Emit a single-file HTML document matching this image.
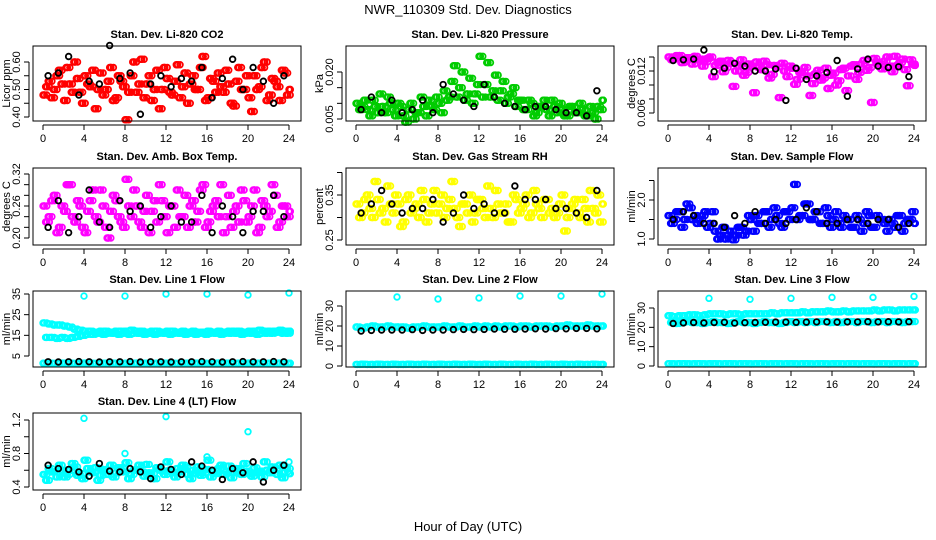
<!DOCTYPE html>
<html><head><meta charset="utf-8"><style>
body{margin:0;background:#fff}
svg{display:block;font-family:"Liberation Sans",Arial,sans-serif}
</style></head><body>
<svg id="c" width="936" height="540" viewBox="0 0 936 540">
<text x="468" y="14" text-anchor="middle" font-size="13">NWR_110309  Std. Dev. Diagnostics</text>
<text x="468" y="531" text-anchor="middle" font-size="13">Hour of Day (UTC)</text>
</svg>
<script>
const hours=[0,0.5,1,1.5,2,2.5,3,3.5,4,4.5,5,5.5,6,6.5,7,7.5,8,8.5,9,9.5,10,10.5,11,11.5,12,12.5,13,13.5,14,14.5,15,15.5,16,16.5,17,17.5,18,18.5,19,19.5,20,20.5,21,21.5,22,22.5,23,23.5,24];
const blackHours=[0.5,1.5,2.5,3.5,4.5,5.5,6.5,7.5,8.5,9.5,10.5,11.5,12.5,13.5,14.5,15.5,16.5,17.5,18.5,19.5,20.5,21.5,22.5,23.5];
const outlierHours=[4,8,12,16,20,24];
const xTicks=[0,4,8,12,16,20,24];

const co2A=[0.48,0.53,0.50,0.57,0.46,0.52,0.60,0.49,0.55,0.51,0.43,0.56,0.50,0.58,0.47,0.53,0.39,0.55,0.49,0.61,0.52,0.46,0.57,0.50,0.54,0.48,0.59,0.51,0.45,0.55,0.50,0.62,0.47,0.53,0.56,0.49,0.52,0.44,0.58,0.50,0.47,0.55,0.51,0.60,0.48,0.53,0.46,0.56,0.50];
const co2B=[0.51,0.47,0.55,0.52,0.58,0.49,0.54,0.45,0.52,0.57,0.50,0.48,0.53,0.46,0.55,0.51,0.49,0.60,0.52,0.47,0.55,0.50,0.43,0.58,0.49,0.53,0.47,0.56,0.52,0.50,0.58,0.46,0.54,0.49,0.51,0.57,0.45,0.53,0.50,0.55,0.42,0.50,0.58,0.46,0.54,0.51,0.57,0.48,0.52];
const co2K=[0.55,0.56,0.62,0.48,0.53,0.52,0.66,0.54,0.56,0.41,0.52,0.55,0.51,0.54,0.53,0.58,0.47,0.54,0.61,0.50,0.58,0.53,0.45,0.55];

const presA=[0.010,0.009,0.008,0.011,0.007,0.009,0.012,0.008,0.010,0.006,0.008,0.005,0.007,0.009,0.011,0.008,0.010,0.014,0.012,0.022,0.015,0.011,0.018,0.013,0.025,0.016,0.012,0.019,0.014,0.010,0.013,0.009,0.011,0.008,0.010,0.007,0.009,0.008,0.011,0.007,0.008,0.006,0.009,0.007,0.008,0.006,0.007,0.009,0.011];
const presB=[0.008,0.011,0.006,0.009,0.013,0.007,0.010,0.006,0.009,0.004,0.010,0.007,0.012,0.006,0.009,0.012,0.007,0.011,0.017,0.012,0.020,0.013,0.010,0.016,0.012,0.023,0.014,0.011,0.017,0.012,0.015,0.011,0.008,0.011,0.006,0.009,0.011,0.006,0.009,0.010,0.006,0.009,0.007,0.010,0.006,0.009,0.005,0.008,0.013];
const presK=[0.008,0.012,0.007,0.011,0.007,0.008,0.011,0.007,0.016,0.013,0.011,0.009,0.016,0.012,0.010,0.009,0.008,0.009,0.009,0.008,0.007,0.007,0.006,0.014];

const tempA=[0.0140,0.0138,0.0142,0.0135,0.0139,0.0141,0.0137,0.0133,0.0140,0.0128,0.0134,0.0125,0.0131,0.0120,0.0136,0.0118,0.0127,0.0133,0.0122,0.0129,0.0115,0.0126,0.0131,0.0112,0.0124,0.0108,0.0119,0.0113,0.0102,0.0121,0.0110,0.0095,0.0117,0.0106,0.0124,0.0113,0.0129,0.0118,0.0135,0.0125,0.0138,0.0130,0.0134,0.0127,0.0141,0.0132,0.0122,0.0136,0.0128];
const tempB=[0.0136,0.0142,0.0132,0.0139,0.0130,0.0136,0.0127,0.0138,0.0112,0.0132,0.0119,0.0135,0.0098,0.0127,0.0114,0.0130,0.0089,0.0125,0.0134,0.0110,0.0128,0.0082,0.0120,0.0127,0.0101,0.0118,0.0125,0.0085,0.0116,0.0107,0.0124,0.0114,0.0100,0.0122,0.0092,0.0127,0.0108,0.0130,0.0121,0.0075,0.0133,0.0123,0.0140,0.0119,0.0128,0.0137,0.0099,0.0130,0.0110];
const tempK=[0.0135,0.0136,0.0137,0.0150,0.0119,0.0124,0.0131,0.0127,0.0120,0.0120,0.0123,0.0078,0.0124,0.0108,0.0113,0.0118,0.0135,0.0084,0.0123,0.0137,0.0127,0.0125,0.0126,0.0112];

const ambA=[0.26,0.24,0.28,0.22,0.25,0.30,0.23,0.26,0.21,0.27,0.24,0.29,0.22,0.25,0.27,0.23,0.31,0.24,0.26,0.22,0.28,0.25,0.23,0.27,0.21,0.26,0.29,0.24,0.22,0.27,0.25,0.30,0.23,0.26,0.24,0.21,0.28,0.25,0.23,0.27,0.24,0.29,0.22,0.26,0.25,0.28,0.23,0.26,0.25];
const ambB=[0.23,0.27,0.21,0.26,0.30,0.24,0.27,0.22,0.25,0.29,0.23,0.26,0.20,0.28,0.24,0.22,0.26,0.29,0.23,0.25,0.21,0.27,0.30,0.24,0.26,0.22,0.24,0.28,0.26,0.23,0.29,0.22,0.25,0.27,0.30,0.24,0.22,0.26,0.29,0.23,0.26,0.21,0.27,0.24,0.30,0.22,0.26,0.24,0.27];
const ambK=[0.22,0.27,0.21,0.24,0.29,0.23,0.22,0.27,0.25,0.26,0.22,0.24,0.26,0.23,0.23,0.28,0.21,0.26,0.24,0.21,0.25,0.25,0.28,0.24];

const rhA=[0.33,0.31,0.35,0.30,0.34,0.32,0.37,0.31,0.33,0.29,0.35,0.32,0.30,0.34,0.31,0.36,0.33,0.30,0.34,0.32,0.28,0.33,0.35,0.31,0.34,0.30,0.32,0.36,0.31,0.33,0.29,0.34,0.32,0.35,0.31,0.33,0.30,0.34,0.32,0.31,0.35,0.30,0.33,0.31,0.34,0.29,0.32,0.35,0.33];
const rhB=[0.30,0.34,0.32,0.38,0.31,0.29,0.33,0.35,0.28,0.34,0.31,0.33,0.36,0.29,0.33,0.31,0.35,0.32,0.38,0.30,0.33,0.31,0.29,0.34,0.32,0.37,0.30,0.33,0.31,0.29,0.35,0.31,0.33,0.30,0.36,0.32,0.34,0.31,0.30,0.33,0.27,0.32,0.34,0.30,0.32,0.36,0.31,0.29,0.34];
const rhK=[0.31,0.33,0.36,0.33,0.31,0.32,0.32,0.34,0.29,0.31,0.35,0.32,0.33,0.31,0.31,0.37,0.34,0.34,0.34,0.32,0.32,0.31,0.30,0.36];

const flowA=[1.6,1.5,1.7,1.5,1.8,1.6,1.5,1.7,1.4,1.2,1.1,1.0,1.2,1.1,1.3,1.2,1.5,1.6,1.4,1.7,1.5,1.6,1.3,1.7,1.8,1.5,1.6,1.9,1.5,1.7,1.4,1.6,1.5,1.4,1.6,1.5,1.3,1.5,1.4,1.6,1.3,1.5,1.4,1.5,1.3,1.6,1.4,1.5,1.4];
const flowB=[1.4,1.7,1.3,1.9,1.5,1.4,1.6,1.3,1.7,1.0,1.3,1.1,0.98,1.3,1.1,1.6,1.2,1.4,1.7,1.3,1.8,1.4,1.7,1.5,2.4,1.6,1.9,1.5,1.7,1.4,1.8,1.3,1.7,1.3,1.5,1.3,1.6,1.2,1.7,1.3,1.6,1.5,1.2,1.4,1.6,1.2,1.5,1.7,1.5];
const flowK=[1.5,1.7,1.6,1.4,1.4,1.3,1.6,1.4,1.7,1.4,1.5,1.4,1.5,1.8,1.7,1.4,1.4,1.5,1.5,1.4,1.5,1.5,1.3,1.4];

const l1Up=[21,20.5,20,20,19.5,19,18,17.5,17,17,16.5,17,17,16.5,17,17,17,17.5,17,17,16.5,17,17,16.5,17,17,16.5,17,16.5,17,16.5,16.5,17,16.5,17,16.5,17,17,17,16.5,17,17,17.5,17,17,17,17.5,17,17];
const l1Lo=[14,14,13.5,14,13.5,14,14.5,15,15.5,15.5,16,15.5,16,16,15.5,16,15.5,16,16,15.5,16,15.5,16,16,15.5,16,16,15.5,16,15.5,16,15.5,16,16,15.5,16,16,16,15.5,16,16,15.5,16,16,16,16.5,16,16,16.5];
const l1Base=[1.5,1.5,1.4,1.6,1.5,1.5,1.4,1.5,1.6,1.5,1.4,1.5,1.5,1.6,1.5,1.4,1.5,1.5,1.6,1.5,1.5,1.4,1.5,1.6,1.5,1.5,1.4,1.5,1.5,1.6,1.5,1.5,1.4,1.5,1.6,1.5,1.5,1.4,1.5,1.5,1.6,1.5,1.5,1.4,1.5,1.5,1.6,1.5,1.5];
const l1K=[2.2,2.1,2.2,2.3,2.2,2.1,2.2,2.2,2.3,2.1,2.2,2.2,2.1,2.2,2.2,2.3,2.2,2.1,2.2,2.3,2.2,2.2,2.3,2.2];
const l1Out=[34,34,35,35,34.5,35.5];

const l2Hi=[19.5,19,19.5,20,19.5,19.5,20,19.5,19.5,19.5,19,19.5,19.5,20,19.5,19.5,19.5,20,19.5,19.5,20,19.5,19.5,20,19.5,20,19.5,20,19.5,20,20,19.5,20,20,19.5,20,20,20,19.5,20,20,20.5,20,20,20,20.5,20,20,20];
const l2Lo=[0.8,0.9,0.8,0.8,0.9,0.8,0.8,0.9,0.8,0.8,0.9,0.8,0.8,0.9,0.8,0.8,0.9,0.8,0.8,0.9,0.8,0.8,0.9,0.8,0.8,0.9,0.8,0.8,0.9,0.8,0.8,0.9,0.8,0.8,0.9,0.8,0.8,0.9,0.8,0.8,0.9,0.8,0.8,0.9,0.8,0.8,0.9,0.8,0.8];
const l2K=[17.5,17.8,18,18,18,18.2,17.8,18,18,18.2,18.3,18.2,18.3,18.5,18.4,18.4,18.5,18.6,18.5,18.7,18.6,18.8,18.8,18.6];
const l2Out=[34.5,33.5,34,35,35,36];

const l3Top=[26,25.5,26,26,26.5,26.5,26,26.5,27,27,27,26.5,27,27,26.5,27,27,27,27,27,27.5,27,27.5,27.5,27.5,27.5,28,27.5,28,28,28,28.5,28,28,28.5,28,28.5,28.5,28.5,28.5,29,28.5,29,29,28.5,29,29,29,29];
const l3Mid=[22.5,22,22.5,23,22.5,22.5,22,22.5,23,22.5,22.5,22,22.5,23,22.5,22.5,22,22.5,23,22.5,22.5,22,22.5,23,22.5,23,22.5,23,22.5,23,23,22.5,23,22.5,23,23,22.5,23,23,22.5,23,23,22.5,23,23,22.5,23,23,23];
const l3Lo=[1.2,1.1,1.2,1.2,1.1,1.2,1.2,1.1,1.2,1.2,1.1,1.2,1.2,1.1,1.2,1.2,1.1,1.2,1.2,1.1,1.2,1.2,1.1,1.2,1.2,1.1,1.2,1.2,1.1,1.2,1.2,1.1,1.2,1.2,1.1,1.2,1.2,1.1,1.2,1.2,1.1,1.2,1.2,1.1,1.2,1.2,1.1,1.2,1.2];
const l3K=[22,22.3,22.5,22.3,22.5,22.6,22.2,22.4,22.5,22.6,22.7,22.7,22.6,22.7,22.8,22.8,22.7,22.8,22.8,22.9,22.8,22.9,22.8,22.9];
const l3Out=[35,34.5,35,35.5,35.5,36];

const l4A=[0.55,0.62,0.58,0.66,0.52,0.60,0.64,0.56,0.72,0.58,0.63,0.54,0.60,0.66,0.57,0.62,0.69,0.55,0.61,0.58,0.67,0.56,0.63,0.59,0.70,0.57,0.62,0.66,0.55,0.60,0.64,0.57,0.72,0.59,0.62,0.55,0.65,0.58,0.61,0.68,0.56,0.63,0.59,0.70,0.57,0.62,0.66,0.58,0.56];
const l4B=[0.48,0.58,0.52,0.60,0.55,0.68,0.54,0.50,0.62,0.57,0.48,0.61,0.55,0.52,0.63,0.58,0.50,0.60,0.66,0.53,0.57,0.50,0.61,0.55,0.60,0.52,0.58,0.63,0.50,0.57,0.54,0.61,0.52,0.56,0.66,0.58,0.51,0.62,0.55,0.59,0.53,0.57,0.52,0.60,0.64,0.55,0.51,0.62,0.58];
const l4K=[0.66,0.62,0.61,0.58,0.53,0.68,0.59,0.58,0.62,0.58,0.50,0.64,0.61,0.55,0.70,0.65,0.60,0.49,0.62,0.57,0.70,0.46,0.60,0.66];
const l4Out=[1.22,0.80,1.24,0.76,1.06,0.70];

const NS='http://www.w3.org/2000/svg';
const svg=document.getElementById('c');
const colX0=[43,356,668];
const rowBox=[[46,121],[168,245],[291,367],[413,490]];
const hx=246/24;
const DENSE=[0,0.12,0.25,0.37];
function mk(tag,attrs,parent){const e=document.createElementNS(NS,tag);for(const k in attrs)e.setAttribute(k,attrs[k]);(parent||svg).appendChild(e);return e;}

function panel(p){
  const g=mk('g',{});
  
  
  const x0=colX0[p.col],[top,bot]=rowBox[p.row];
  const left=x0-10,right=x0+258;
  const xs=h=>x0+h*hx;
  const ys=v=>p.ref[1]+(v-p.ref[0])*(p.ref[3]-p.ref[1])/(p.ref[2]-p.ref[0]);
  const t=mk('text',{x:(left+right)/2,y:top-8,'text-anchor':'middle','font-size':11,'font-weight':'bold'},g);
  t.textContent=p.title;
  
  
  const plot=mk('g',{},g);
  
  
  p.series.forEach(s=>{
    const offs=s.dense?DENSE:[0];
    offs.forEach((o,j)=>{
      s.y.forEach((v,i)=>{
        const hh=s.x[i]+(s.dx||0)+(j%2?o:o*0.5);
        if(hh>24.2)return;
        const c=mk('circle',{cx:xs(hh),cy:ys(v),r:2.8,fill:'none',stroke:s.color,'stroke-width':1.8},plot);
        
        
      });
    });
  });
  const box=mk('rect',{x:left,y:top,width:right-left,height:bot-top,fill:'none',stroke:'#000','stroke-width':1},g);
  
  
  mk('line',{x1:xs(0),x2:xs(24),y1:bot+4,y2:bot+4,stroke:'#000'},g);
  xTicks.forEach(h=>{
    mk('line',{x1:xs(h),x2:xs(h),y1:bot+4,y2:bot+9,stroke:'#000'},g);
    const tl=mk('text',{x:xs(h),y:bot+21,'text-anchor':'middle','font-size':11},g);
    tl.textContent=h;
    
    
  });
  const ay=left-4;
  mk('line',{x1:ay,x2:ay,y1:ys(p.ticks[0]),y2:ys(p.ticks[p.ticks.length-1]),stroke:'#000'},g);
  p.ticks.forEach(v=>mk('line',{x1:ay-5,x2:ay,y1:ys(v),y2:ys(v),stroke:'#000'},g));
  p.labels.forEach(v=>{
    const yy=ys(v);
    const tl=mk('text',{x:0,y:0,'text-anchor':'middle','font-size':11,transform:`translate(${left-13},${yy}) rotate(-90)`},g);
    tl.textContent=v.toFixed(p.dec);
    
    
  });
  const yl=mk('text',{x:0,y:0,'text-anchor':'middle','font-size':11,transform:`translate(${left-23},${(top+bot)/2}) rotate(-90)`},g);
  yl.textContent=p.ylab;
  
  
}

panel({name:'co2-panel',title:'Stan. Dev. Li-820 CO2',col:0,row:0,ref:[0.40,117,0.60,62],ticks:[0.40,0.45,0.50,0.55,0.60],labels:[0.40,0.50,0.60],dec:2,ylab:'Licor ppm',
  series:[{x:hours,y:co2A,color:'#ff0000',dense:1},{x:hours,y:co2B,color:'#ff0000',dx:0.25,dense:1},{x:blackHours,y:co2K,color:'#000'}]});
panel({name:'pressure-panel',title:'Stan. Dev. Li-820 Pressure',col:1,row:0,ref:[0.005,119,0.020,72],ticks:[0.005,0.010,0.015,0.020],labels:[0.005,0.020],dec:3,ylab:'kPa',
  series:[{x:hours,y:presA,color:'#00cc00',dense:1},{x:hours,y:presB,color:'#00cc00',dx:0.25,dense:1},{x:blackHours,y:presK,color:'#000'}]});
panel({name:'temp-panel',title:'Stan. Dev. Li-820 Temp.',col:2,row:0,ref:[0.006,113,0.012,71],ticks:[0.006,0.008,0.010,0.012,0.014],labels:[0.006,0.012],dec:3,ylab:'degrees C',
  series:[{x:hours,y:tempA,color:'#ff00ff',dense:1},{x:hours,y:tempB,color:'#ff00ff',dx:0.25,dense:1},{x:blackHours,y:tempK,color:'#000'}]});
panel({name:'amb-box-temp-panel',title:'Stan. Dev. Amb. Box Temp.',col:0,row:1,ref:[0.20,238,0.32,174],ticks:[0.20,0.22,0.24,0.26,0.28,0.30,0.32],labels:[0.20,0.26,0.32],dec:2,ylab:'degrees C',
  series:[{x:hours,y:ambA,color:'#ff00ff',dense:1},{x:hours,y:ambB,color:'#ff00ff',dx:0.25,dense:1},{x:blackHours,y:ambK,color:'#000'}]});
panel({name:'gas-stream-rh-panel',title:'Stan. Dev. Gas Stream RH',col:1,row:1,ref:[0.25,240,0.35,195],ticks:[0.25,0.30,0.35,0.40],labels:[0.25,0.35],dec:2,ylab:'percent',
  series:[{x:hours,y:rhA,color:'#ffff00',dense:1},{x:hours,y:rhB,color:'#ffff00',dx:0.25,dense:1},{x:blackHours,y:rhK,color:'#000'}]});
panel({name:'sample-flow-panel',title:'Stan. Dev. Sample Flow',col:2,row:1,ref:[1.0,239,2.0,200],ticks:[1.0,1.5,2.0,2.5],labels:[1.0,2.0],dec:1,ylab:'ml/min',
  series:[{x:hours,y:flowA,color:'#0000ff',dense:1},{x:hours,y:flowB,color:'#0000ff',dx:0.25,dense:1},{x:blackHours,y:flowK,color:'#000'}]});
panel({name:'line1-flow-panel',title:'Stan. Dev. Line 1 Flow',col:0,row:2,ref:[5,356,35,294],ticks:[5,15,25,35],labels:[5,15,25,35],dec:0,ylab:'ml/min',
  series:[{x:hours,y:l1Up,color:'#00ffff',dense:1},{x:hours,y:l1Lo,color:'#00ffff',dx:0.25,dense:1},{x:hours,y:l1Base,color:'#00ffff',dense:1},{x:outlierHours,y:l1Out,color:'#00ffff'},{x:blackHours,y:l1K,color:'#000'}]});
panel({name:'line2-flow-panel',title:'Stan. Dev. Line 2 Flow',col:1,row:2,ref:[0,366,30,306],ticks:[0,10,20,30],labels:[0,10,20,30],dec:0,ylab:'ml/min',
  series:[{x:hours,y:l2Hi,color:'#00ffff',dense:1},{x:hours,y:l2Lo,color:'#00ffff',dense:1},{x:outlierHours,y:l2Out,color:'#00ffff'},{x:blackHours,y:l2K,color:'#000'}]});
panel({name:'line3-flow-panel',title:'Stan. Dev. Line 3 Flow',col:2,row:2,ref:[0,366,30,308],ticks:[0,10,20,30],labels:[0,10,20,30],dec:0,ylab:'ml/min',
  series:[{x:hours,y:l3Top,color:'#00ffff',dense:1},{x:hours,y:l3Mid,color:'#00ffff',dx:0.25,dense:1},{x:hours,y:l3Lo,color:'#00ffff',dense:1},{x:outlierHours,y:l3Out,color:'#00ffff'},{x:blackHours,y:l3K,color:'#000'}]});
panel({name:'line4-flow-panel',title:'Stan. Dev. Line 4 (LT) Flow',col:0,row:3,ref:[0.4,487,1.2,420],ticks:[0.4,0.6,0.8,1.0,1.2],labels:[0.4,0.8,1.2],dec:1,ylab:'ml/min',
  series:[{x:hours,y:l4A,color:'#00ffff',dense:1},{x:hours,y:l4B,color:'#00ffff',dx:0.25,dense:1},{x:outlierHours,y:l4Out,color:'#00ffff'},{x:blackHours,y:l4K,color:'#000'}]});
</script>
</body></html>
